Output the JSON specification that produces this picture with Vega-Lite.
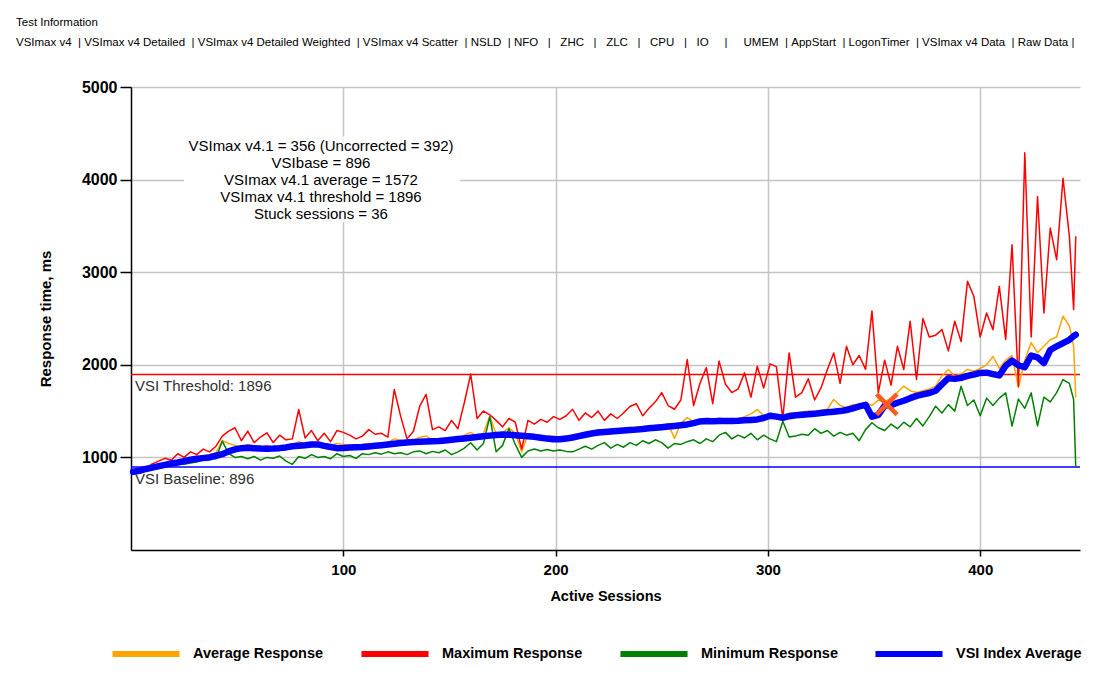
{
  "$schema": "https://vega.github.io/schema/vega-lite/v6.json",
  "width": 949,
  "height": 463,
  "autosize": {"type": "none"},
  "padding": {"left": 131, "top": 87, "right": 27, "bottom": 135},
  "background": "white",
  "config": {
    "view": {"stroke": null},
    "font": "Liberation Sans",
    "axisX": {"grid": true, "gridColor": "#C4C4C4", "gridWidth": 1.5, "domainColor": "black", "domainWidth": 1.5, "tickColor": "black", "tickSize": 6, "tickWidth": 1.5, "labelFont": "Liberation Sans", "labelFontSize": 15, "labelFontWeight": "bold", "labelColor": "black", "labelPadding": 6, "titleFont": "Liberation Sans", "titleFontSize": 14.5, "titleFontWeight": "bold", "titleColor": "black", "titlePadding": 12},
    "axisY": {"grid": true, "gridColor": "#C4C4C4", "gridWidth": 1.5, "domainColor": "black", "domainWidth": 1.5, "tickColor": "black", "tickSize": 11, "tickWidth": 1.5, "labelFont": "Liberation Sans", "labelFontSize": 16, "labelFontWeight": "bold", "labelColor": "black", "labelPadding": 3, "titleFont": "Liberation Sans", "titleFontSize": 15, "titleFontWeight": "bold", "titleColor": "black", "titlePadding": 28}
  },
  "title": {
    "text": "Test Information",
    "subtitle": "VSImax v4\u00a0\u00a0|\u00a0VSImax v4 Detailed\u00a0\u00a0|\u00a0VSImax v4 Detailed Weighted\u00a0\u00a0|\u00a0VSImax v4 Scatter\u00a0\u00a0|\u00a0NSLD\u00a0\u00a0|\u00a0NFO\u00a0\u00a0\u00a0|\u00a0\u00a0\u00a0ZHC\u00a0\u00a0\u00a0|\u00a0\u00a0\u00a0ZLC\u00a0\u00a0\u00a0|\u00a0\u00a0\u00a0CPU\u00a0\u00a0\u00a0|\u00a0\u00a0\u00a0IO\u00a0\u00a0\u00a0\u00a0\u00a0|\u00a0\u00a0\u00a0\u00a0\u00a0UMEM\u00a0\u00a0|\u00a0AppStart\u00a0\u00a0|\u00a0LogonTimer\u00a0\u00a0|\u00a0VSImax v4 Data\u00a0\u00a0|\u00a0Raw Data\u00a0|",
    "anchor": "start",
    "frame": "group",
    "dx": -115,
    "offset": 31,
    "font": "Liberation Sans",
    "fontSize": 11.5,
    "fontWeight": "normal",
    "color": "black",
    "subtitleFont": "Liberation Sans",
    "subtitleFontSize": 11.5,
    "subtitleColor": "black",
    "subtitlePadding": 8
  },
  "datasets": {
    "perf": [
      {"s":1,"avg":850,"max":850,"min":830,"vsi":845},
      {"s":4,"avg":865,"max":870,"min":845,"vsi":855},
      {"s":7,"avg":880,"max":880,"min":855,"vsi":875},
      {"s":10,"avg":900,"max":930,"min":870,"vsi":890},
      {"s":13,"avg":915,"max":960,"min":880,"vsi":905},
      {"s":16,"avg":930,"max":990,"min":895,"vsi":920},
      {"s":19,"avg":950,"max":970,"min":910,"vsi":935},
      {"s":22,"avg":960,"max":1040,"min":935,"vsi":945},
      {"s":25,"avg":975,"max":1000,"min":925,"vsi":960},
      {"s":28,"avg":990,"max":1060,"min":940,"vsi":975},
      {"s":31,"avg":1000,"max":1030,"min":950,"vsi":985},
      {"s":34,"avg":1020,"max":1090,"min":975,"vsi":992},
      {"s":37,"avg":1030,"max":1060,"min":1020,"vsi":1000},
      {"s":40,"avg":1050,"max":1120,"min":985,"vsi":1018},
      {"s":43,"avg":1180,"max":1230,"min":1176,"vsi":1035},
      {"s":46,"avg":1150,"max":1284,"min":1040,"vsi":1065},
      {"s":49,"avg":1130,"max":1320,"min":1000,"vsi":1086},
      {"s":52,"avg":1110,"max":1180,"min":1010,"vsi":1100},
      {"s":55,"avg":1140,"max":1284,"min":985,"vsi":1104},
      {"s":58,"avg":1120,"max":1160,"min":1010,"vsi":1100},
      {"s":61,"avg":1110,"max":1220,"min":970,"vsi":1096},
      {"s":64,"avg":1130,"max":1266,"min":1000,"vsi":1094},
      {"s":67,"avg":1105,"max":1160,"min":990,"vsi":1096},
      {"s":70,"avg":1125,"max":1240,"min":1015,"vsi":1100},
      {"s":73,"avg":1130,"max":1190,"min":960,"vsi":1108},
      {"s":76,"avg":1140,"max":1200,"min":925,"vsi":1120},
      {"s":79,"avg":1170,"max":1517,"min":1010,"vsi":1126},
      {"s":82,"avg":1145,"max":1210,"min":990,"vsi":1132},
      {"s":85,"avg":1165,"max":1290,"min":1030,"vsi":1140},
      {"s":88,"avg":1150,"max":1180,"min":1000,"vsi":1140},
      {"s":91,"avg":1145,"max":1260,"min":1010,"vsi":1125},
      {"s":94,"avg":1130,"max":1170,"min":985,"vsi":1112},
      {"s":97,"avg":1150,"max":1290,"min":1040,"vsi":1100},
      {"s":100,"avg":1140,"max":1270,"min":1010,"vsi":1102},
      {"s":103,"avg":1130,"max":1240,"min":1020,"vsi":1106},
      {"s":106,"avg":1120,"max":1200,"min":990,"vsi":1110},
      {"s":109,"avg":1140,"max":1230,"min":1040,"vsi":1112},
      {"s":112,"avg":1150,"max":1300,"min":1030,"vsi":1118},
      {"s":115,"avg":1145,"max":1250,"min":1050,"vsi":1125},
      {"s":118,"avg":1155,"max":1260,"min":1035,"vsi":1132},
      {"s":121,"avg":1160,"max":1220,"min":1060,"vsi":1140},
      {"s":124,"avg":1200,"max":1733,"min":1040,"vsi":1148},
      {"s":127,"avg":1185,"max":1446,"min":1050,"vsi":1155},
      {"s":130,"avg":1170,"max":1200,"min":1030,"vsi":1162},
      {"s":133,"avg":1190,"max":1280,"min":1060,"vsi":1165},
      {"s":136,"avg":1215,"max":1553,"min":1070,"vsi":1170},
      {"s":139,"avg":1230,"max":1680,"min":1040,"vsi":1172},
      {"s":142,"avg":1190,"max":1300,"min":1065,"vsi":1174},
      {"s":145,"avg":1200,"max":1330,"min":1050,"vsi":1176},
      {"s":148,"avg":1195,"max":1290,"min":1080,"vsi":1183},
      {"s":151,"avg":1215,"max":1400,"min":1030,"vsi":1190},
      {"s":154,"avg":1205,"max":1310,"min":1060,"vsi":1198},
      {"s":157,"avg":1240,"max":1590,"min":1100,"vsi":1205},
      {"s":160,"avg":1270,"max":1900,"min":1158,"vsi":1213},
      {"s":163,"avg":1230,"max":1420,"min":1080,"vsi":1220},
      {"s":166,"avg":1260,"max":1500,"min":1150,"vsi":1228},
      {"s":169,"avg":1445,"max":1460,"min":1440,"vsi":1235},
      {"s":172,"avg":1250,"max":1400,"min":1060,"vsi":1242},
      {"s":175,"avg":1265,"max":1330,"min":1130,"vsi":1247},
      {"s":178,"avg":1320,"max":1420,"min":1310,"vsi":1245},
      {"s":181,"avg":1260,"max":1380,"min":1140,"vsi":1240},
      {"s":184,"avg":1060,"max":1090,"min":1000,"vsi":1234},
      {"s":187,"avg":1250,"max":1400,"min":1070,"vsi":1228},
      {"s":190,"avg":1240,"max":1360,"min":1090,"vsi":1222},
      {"s":193,"avg":1235,"max":1410,"min":1070,"vsi":1212},
      {"s":196,"avg":1225,"max":1380,"min":1085,"vsi":1203},
      {"s":199,"avg":1230,"max":1440,"min":1070,"vsi":1196},
      {"s":202,"avg":1215,"max":1410,"min":1080,"vsi":1195},
      {"s":205,"avg":1225,"max":1450,"min":1065,"vsi":1203},
      {"s":208,"avg":1240,"max":1520,"min":1060,"vsi":1215},
      {"s":211,"avg":1255,"max":1400,"min":1090,"vsi":1230},
      {"s":214,"avg":1270,"max":1480,"min":1120,"vsi":1245},
      {"s":217,"avg":1280,"max":1430,"min":1090,"vsi":1258},
      {"s":220,"avg":1295,"max":1500,"min":1130,"vsi":1268},
      {"s":223,"avg":1290,"max":1400,"min":1160,"vsi":1274},
      {"s":226,"avg":1305,"max":1470,"min":1100,"vsi":1280},
      {"s":229,"avg":1300,"max":1420,"min":1140,"vsi":1285},
      {"s":232,"avg":1315,"max":1480,"min":1110,"vsi":1290},
      {"s":235,"avg":1320,"max":1550,"min":1160,"vsi":1296},
      {"s":238,"avg":1330,"max":1580,"min":1130,"vsi":1300},
      {"s":241,"avg":1320,"max":1450,"min":1180,"vsi":1306},
      {"s":244,"avg":1335,"max":1530,"min":1150,"vsi":1314},
      {"s":247,"avg":1345,"max":1600,"min":1190,"vsi":1320},
      {"s":250,"avg":1350,"max":1700,"min":1160,"vsi":1326},
      {"s":253,"avg":1360,"max":1560,"min":1100,"vsi":1333},
      {"s":256,"avg":1205,"max":1520,"min":1150,"vsi":1340},
      {"s":259,"avg":1370,"max":1620,"min":1140,"vsi":1348},
      {"s":262,"avg":1430,"max":2057,"min":1170,"vsi":1356},
      {"s":265,"avg":1385,"max":1560,"min":1190,"vsi":1370},
      {"s":268,"avg":1400,"max":1800,"min":1150,"vsi":1388},
      {"s":271,"avg":1420,"max":1970,"min":1200,"vsi":1392},
      {"s":274,"avg":1400,"max":1580,"min":1170,"vsi":1390},
      {"s":277,"avg":1425,"max":2040,"min":1240,"vsi":1392},
      {"s":280,"avg":1410,"max":1790,"min":1270,"vsi":1393},
      {"s":283,"avg":1420,"max":1700,"min":1200,"vsi":1393},
      {"s":286,"avg":1415,"max":1740,"min":1240,"vsi":1395},
      {"s":289,"avg":1440,"max":1913,"min":1210,"vsi":1400},
      {"s":292,"avg":1470,"max":1650,"min":1260,"vsi":1405},
      {"s":295,"avg":1517,"max":1985,"min":1190,"vsi":1410},
      {"s":298,"avg":1450,"max":1750,"min":1240,"vsi":1425},
      {"s":301,"avg":1470,"max":2010,"min":1200,"vsi":1450},
      {"s":304,"avg":1460,"max":1980,"min":1170,"vsi":1440},
      {"s":307,"avg":1410,"max":1420,"min":1390,"vsi":1428},
      {"s":310,"avg":1480,"max":2128,"min":1220,"vsi":1445},
      {"s":313,"avg":1475,"max":1650,"min":1230,"vsi":1455},
      {"s":316,"avg":1490,"max":1700,"min":1250,"vsi":1460},
      {"s":319,"avg":1500,"max":1850,"min":1240,"vsi":1465},
      {"s":322,"avg":1495,"max":1620,"min":1310,"vsi":1472},
      {"s":325,"avg":1510,"max":1750,"min":1260,"vsi":1480},
      {"s":328,"avg":1520,"max":1950,"min":1290,"vsi":1488},
      {"s":331,"avg":1625,"max":2128,"min":1230,"vsi":1494},
      {"s":334,"avg":1560,"max":1800,"min":1270,"vsi":1500},
      {"s":337,"avg":1540,"max":2200,"min":1240,"vsi":1512},
      {"s":340,"avg":1570,"max":2000,"min":1260,"vsi":1530},
      {"s":343,"avg":1560,"max":2100,"min":1180,"vsi":1550},
      {"s":346,"avg":1590,"max":1950,"min":1300,"vsi":1568},
      {"s":349,"avg":1560,"max":2580,"min":1374,"vsi":1440},
      {"s":352,"avg":1620,"max":1700,"min":1320,"vsi":1460},
      {"s":355,"avg":1600,"max":2050,"min":1290,"vsi":1560},
      {"s":358,"avg":1640,"max":1780,"min":1360,"vsi":1565},
      {"s":361,"avg":1700,"max":2200,"min":1310,"vsi":1590},
      {"s":364,"avg":1770,"max":1950,"min":1380,"vsi":1612},
      {"s":367,"avg":1720,"max":2470,"min":1330,"vsi":1640},
      {"s":370,"avg":1700,"max":1841,"min":1420,"vsi":1665},
      {"s":373,"avg":1720,"max":2500,"min":1340,"vsi":1680},
      {"s":376,"avg":1740,"max":2300,"min":1440,"vsi":1695},
      {"s":379,"avg":1770,"max":2320,"min":1553,"vsi":1720},
      {"s":382,"avg":1880,"max":2380,"min":1480,"vsi":1790},
      {"s":385,"avg":1949,"max":2150,"min":1570,"vsi":1855},
      {"s":388,"avg":1880,"max":2470,"min":1500,"vsi":1848},
      {"s":391,"avg":1900,"max":2250,"min":1769,"vsi":1860},
      {"s":394,"avg":1950,"max":2901,"min":1560,"vsi":1880},
      {"s":397,"avg":1930,"max":2740,"min":1620,"vsi":1895},
      {"s":400,"avg":1960,"max":2300,"min":1450,"vsi":1912},
      {"s":403,"avg":2000,"max":2560,"min":1640,"vsi":1915},
      {"s":406,"avg":2090,"max":2380,"min":1560,"vsi":1900},
      {"s":409,"avg":1960,"max":2847,"min":1640,"vsi":1885},
      {"s":412,"avg":2050,"max":2272,"min":1697,"vsi":1990},
      {"s":415,"avg":2100,"max":3297,"min":1338,"vsi":2045},
      {"s":418,"avg":1755,"max":1769,"min":1630,"vsi":1995},
      {"s":421,"avg":2050,"max":4290,"min":1530,"vsi":1975},
      {"s":424,"avg":2240,"max":2300,"min":1697,"vsi":2100},
      {"s":427,"avg":2130,"max":3818,"min":1340,"vsi":2080},
      {"s":430,"avg":2200,"max":2560,"min":1650,"vsi":2020},
      {"s":433,"avg":2270,"max":3476,"min":1600,"vsi":2160},
      {"s":436,"avg":2300,"max":3135,"min":1700,"vsi":2200},
      {"s":439,"avg":2524,"max":4015,"min":1841,"vsi":2235},
      {"s":442,"avg":2420,"max":3387,"min":1800,"vsi":2270},
      {"s":444,"avg":2200,"max":2596,"min":1625,"vsi":2310},
      {"s":445,"avg":1646,"max":3387,"min":890,"vsi":2325}
    ]
  },
  "data": {"name": "perf"},
  "layer": [
    {
      "data": {"values": [{}]},
      "mark": {"type": "rect", "fill": "white"},
      "encoding": {
        "x": {"datum": 25, "type": "quantitative", "scale": {"domain": [0, 447], "nice": false}},
        "x2": {"datum": 155},
        "y": {"datum": 4465, "type": "quantitative", "scale": {"domain": [0, 5000], "nice": false}},
        "y2": {"datum": 3540}
      }
    },
    {
      "data": {"values": [{}]},
      "mark": {"type": "rule", "color": "#FF0000", "strokeWidth": 1.5},
      "encoding": {"y": {"datum": 1896, "type": "quantitative"}}
    },
    {
      "data": {"values": [{}]},
      "mark": {"type": "rule", "color": "#0000FF", "strokeWidth": 1.5},
      "encoding": {"y": {"datum": 896, "type": "quantitative"}}
    },
    {
      "transform": [{"fold": ["avg", "max", "min"], "as": ["series", "ms"]}],
      "mark": {"type": "line", "strokeWidth": 1.5, "strokeJoin": "round"},
      "encoding": {
        "x": {"field": "s", "type": "quantitative", "scale": {"domain": [0, 447], "nice": false}, "axis": {"title": "Active Sessions", "values": [100, 200, 300, 400], "format": "d"}},
        "y": {"field": "ms", "type": "quantitative", "scale": {"domain": [0, 5000], "nice": false}, "axis": {"title": "Response time, ms", "values": [1000, 2000, 3000, 4000, 5000], "format": "d"}},
        "color": {
          "field": "series",
          "type": "nominal",
          "scale": {"domain": ["avg", "max", "min", "vsi"], "range": ["#FFA500", "#FF0000", "#008000", "#0000FF"]},
          "legend": {
            "orient": "none",
            "legendX": -22,
            "legendY": 530,
            "direction": "horizontal",
            "columns": 4,
            "title": null,
            "symbolType": "stroke",
            "symbolSize": 4500,
            "symbolStrokeWidth": 6,
            "labelFont": "Liberation Sans",
            "labelFontSize": 14.5,
            "labelFontWeight": "bold",
            "labelColor": "black",
            "labelOffset": 10,
            "labelLimit": 300,
            "columnPadding": 25,
            "labelExpr": "datum.label == 'avg' ? 'Average Response' : datum.label == 'max' ? 'Maximum Response' : datum.label == 'min' ? 'Minimum Response' : 'VSI Index Average'"
          }
        }
      }
    },
    {
      "transform": [{"fold": ["vsi"], "as": ["series", "ms"]}],
      "mark": {"type": "line", "strokeWidth": 6.5, "strokeJoin": "round", "strokeCap": "round"},
      "encoding": {
        "x": {"field": "s", "type": "quantitative"},
        "y": {"field": "ms", "type": "quantitative"},
        "color": {"field": "series", "type": "nominal"}
      }
    },
    {
      "data": {"values": [{"s": 356, "ms": 1572}]},
      "mark": {"type": "point", "shape": "M-1,-1L1,1M-1,1L1,-1", "size": 420, "strokeWidth": 4.5, "filled": false, "color": "#FF5A1F", "opacity": 1},
      "encoding": {
        "x": {"field": "s", "type": "quantitative"},
        "y": {"field": "ms", "type": "quantitative"}
      }
    },
    {
      "data": {"values": [{}]},
      "mark": {"type": "text", "align": "left", "baseline": "top", "dx": 4, "dy": 5, "fontSize": 15, "font": "Liberation Sans", "color": "#303030", "text": "VSI Threshold: 1896"},
      "encoding": {"x": {"datum": 0, "type": "quantitative"}, "y": {"datum": 1896, "type": "quantitative"}}
    },
    {
      "data": {"values": [{}]},
      "mark": {"type": "text", "align": "left", "baseline": "top", "dx": 4, "dy": 5, "fontSize": 15, "font": "Liberation Sans", "color": "#303030", "text": "VSI Baseline: 896"},
      "encoding": {"x": {"datum": 0, "type": "quantitative"}, "y": {"datum": 896, "type": "quantitative"}}
    },
    {
      "data": {"values": [{}]},
      "mark": {"type": "text", "align": "center", "baseline": "top", "lineHeight": 17, "fontSize": 15, "font": "Liberation Sans", "color": "black", "text": ["VSImax v4.1 = 356 (Uncorrected = 392)", "VSIbase = 896", "VSImax v4.1 average = 1572", "VSImax v4.1 threshold = 1896", "Stuck sessions = 36"]},
      "encoding": {"x": {"datum": 89.5, "type": "quantitative"}, "y": {"datum": 4440, "type": "quantitative"}}
    }
  ]
}
